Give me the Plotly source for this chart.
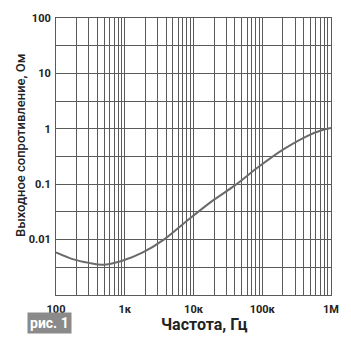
import plotly.graph_objects as go
import numpy as np

# Data
freq_hz = [100, 180, 300, 480, 900, 1800, 3700, 7000, 18000, 40000, 86000, 200000, 450000, 750000, 1000000]
z_out_ohm = [0.0059, 0.0044, 0.0038, 0.0035, 0.0041, 0.0058, 0.01, 0.019, 0.048, 0.095, 0.2, 0.42, 0.74, 0.95, 1.03]

x_tickvals = [100, 1000, 10000, 100000, 1000000]
x_ticktext = ["100", "1к", "10к", "100к", "1М"]
y_tickvals = [100, 10, 1, 0.1, 0.01]
y_ticktext = ["100", "10", "1", "0.1", "0.01"]

x_minor = [m * 10 ** e for e in range(2, 6) for m in range(2, 10)]
y_minor = [np.sqrt(10) * 10 ** e for e in range(-3, 2)] + [0.001]

FONT = "Roboto, sans-serif"
GRID = "#5a5a5a"

fig = go.Figure()
fig.add_trace(go.Scatter(
    x=freq_hz, y=z_out_ohm, mode="lines",
    line=dict(color="#6a6a6a", width=2, shape="spline", smoothing=1.0),
    hoverinfo="skip", showlegend=False,
))

fig.update_layout(
    width=351, height=337,
    margin=dict(l=56, r=17, t=16, b=42),
    paper_bgcolor="white", plot_bgcolor="white",
    font=dict(family=FONT, color="#222", size=11),
    xaxis=dict(
        type="log", range=[2, 6],
        tickmode="array", tickvals=x_tickvals, ticktext=x_ticktext,
        tickfont=dict(family=FONT, size=11, color="#222", weight="bold"),
        showgrid=True, gridcolor=GRID, gridwidth=1,
        showline=True, linecolor=GRID, linewidth=1, mirror=True,
        ticks="", ticklabelstandoff=4,
        minor=dict(tickmode="array", tickvals=x_minor, showgrid=True, gridcolor=GRID, gridwidth=1, ticks=""),
        zeroline=False,
    ),
    yaxis=dict(
        type="log", range=[-3, 2],
        tickmode="array", tickvals=y_tickvals, ticktext=y_ticktext,
        tickfont=dict(family=FONT, size=11, color="#222", weight="bold"),
        showgrid=True, gridcolor=GRID, gridwidth=1,
        showline=True, linecolor=GRID, linewidth=1, mirror=True,
        ticks="", ticklabelstandoff=2,
        minor=dict(tickmode="array", tickvals=y_minor, showgrid=True, gridcolor=GRID, gridwidth=1, ticks=""),
        zeroline=False,
    ),
    annotations=[
        dict(text="Выходное сопротивление, Ом", xref="paper", yref="paper",
             x=-0.129, y=0.54, xanchor="center", yanchor="middle", textangle=-90,
             showarrow=False, font=dict(family=FONT, size=13, color="#222", weight=500)),
        dict(text="<b>Частота, Гц</b>", xref="paper", yref="paper",
             x=0.54, y=-0.1075, xanchor="center", yanchor="middle",
             showarrow=False, font=dict(family=FONT, size=16, color="#222")),
        dict(text="<b>рис. 1</b>", xref="paper", yref="paper",
             x=-0.022, y=-0.1, xanchor="center", yanchor="middle",
             showarrow=False, bgcolor="#8a8a8a", borderpad=2,
             font=dict(family=FONT, size=14, color="white")),
    ],
)

fig.write_html("out.html")
